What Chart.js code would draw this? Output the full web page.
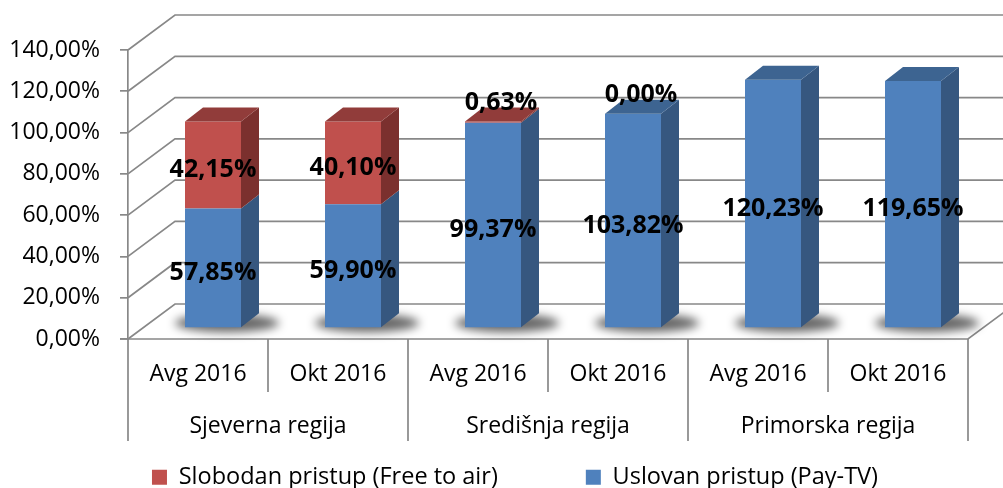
<!DOCTYPE html>
<html><head><meta charset="utf-8">
<script src="https://cdn.jsdelivr.net/npm/chart.js@4.4.1/dist/chart.umd.min.js"></script>
<style>html,body{margin:0;padding:0;background:#fff}#wrap{width:1003px;height:488px}</style>
</head><body><div id="wrap"><canvas id="c" width="1003" height="488"></canvas></div>
<script>
// ---- data ----
const periods = ['Avg 2016', 'Okt 2016', 'Avg 2016', 'Okt 2016', 'Avg 2016', 'Okt 2016'];
const regions = ['Sjeverna regija', 'Središnja regija', 'Primorska regija'];
const payTV = [57.85, 59.90, 99.37, 103.82, 120.23, 119.65];
const freeToAir = [42.15, 40.10, 0.63, 0.00, null, null];
const seriesNames = ['Uslovan pristup (Pay-TV)', 'Slobodan pristup (Free to air)'];
const yMin = 0, yMax = 140, yStep = 20;

// ---- styling ----
const FONT = '"Open Sans", "Noto Sans", sans-serif';
const GRID = '#888888';
const WALL = {dx: 47, dy: -35};
const BAR = {dx: 15, dy: -11};
const DEPTH = {dx: 18, dy: -14};
const faces = [
  {front: '#4F81BD', side: '#36577F', top: '#3D6491'},
  {front: '#C0504D', side: '#7B302E', top: '#913C3A'}
];
const fmt = v => v.toFixed(2).replace('.', ',') + '%';

function poly(ctx, pts) {
  ctx.beginPath();
  ctx.moveTo(pts[0][0], pts[0][1]);
  for (let i = 1; i < pts.length; i++) ctx.lineTo(pts[i][0], pts[i][1]);
  ctx.closePath();
  ctx.fill();
}

const pseudo3d = {
  id: 'pseudo3d',
  afterLayout(chart) {
    // nudge the legend block slightly to the right, as in the original
    if (chart.legend) chart.legend.left += 27;
  },
  beforeDatasetsDraw(chart) {
    const {ctx, chartArea: a, scales: {x, y}} = chart;
    ctx.save();
    ctx.strokeStyle = GRID;
    ctx.lineWidth = 1.7;
    y.ticks.forEach(t => {
      const py = y.getPixelForValue(t.value);
      ctx.beginPath();
      ctx.moveTo(a.left, py);
      ctx.lineTo(a.left + WALL.dx, py + WALL.dy);
      ctx.lineTo(a.right + WALL.dx, py + WALL.dy);
      ctx.stroke();
    });
    ctx.beginPath();
    ctx.moveTo(a.left - 8, a.bottom);
    ctx.lineTo(a.right, a.bottom);
    ctx.lineTo(a.right + WALL.dx, a.bottom + WALL.dy);
    ctx.stroke();
    // soft shadows on the floor
    const meta0 = chart.getDatasetMeta(0);
    ctx.filter = 'blur(5px)';
    ctx.fillStyle = 'rgba(0,0,0,0.6)';
    meta0.data.forEach(el => {
      ctx.beginPath();
      ctx.ellipse(el.x + BAR.dx + 14, el.base + BAR.dy - 4, 52, 9, 0, 0, Math.PI * 2);
      ctx.fill();
    });
    ctx.filter = 'none';
    ctx.restore();
    ctx.save();
    ctx.translate(BAR.dx, BAR.dy);
  },
  afterDatasetsDraw(chart) {
    const {ctx} = chart;
    const n = chart.data.labels.length;
    for (let i = 0; i < n; i++) {
      let topDs = -1;
      chart.data.datasets.forEach((ds, d) => { if (ds.data[i]) topDs = d; });
      chart.data.datasets.forEach((ds, d) => {
        const v = ds.data[i];
        if (!v) return;
        const el = chart.getDatasetMeta(d).data[i];
        const l = el.x - el.width / 2, r = el.x + el.width / 2, t = el.y, b = el.base;
        ctx.fillStyle = faces[d].side;
        poly(ctx, [[r, b], [r, t], [r + DEPTH.dx, t + DEPTH.dy], [r + DEPTH.dx, b + DEPTH.dy]]);
        if (d === topDs) {
          ctx.fillStyle = faces[d].top;
          poly(ctx, [[l, t], [r, t], [r + DEPTH.dx, t + DEPTH.dy], [l + DEPTH.dx, t + DEPTH.dy]]);
        }
      });
    }
    ctx.restore();
    // data labels
    ctx.save();
    ctx.font = 'bold 25px ' + FONT;
    ctx.fillStyle = '#000';
    ctx.textAlign = 'center';
    ctx.textBaseline = 'middle';
    chart.data.datasets.forEach((ds, d) => {
      const meta = chart.getDatasetMeta(d);
      ds.data.forEach((v, i) => {
        if (v === null || v === undefined) return;
        const el = meta.data[i];
        let cx, cy;
        if (v >= 5) {
          cx = el.x + BAR.dx;
          cy = (el.y + el.base) / 2 + BAR.dy + 5;
        } else {
          cx = el.x + BAR.dx + 8;
          cy = el.y + BAR.dy - 19;
        }
        ctx.fillText(fmt(v), cx, cy);
      });
    });
    ctx.restore();
  },
  afterDraw(chart) {
    const {ctx, chartArea: a, scales: {x}} = chart;
    const n = periods.length;
    const per = n / regions.length;
    ctx.save();
    ctx.strokeStyle = GRID;
    ctx.lineWidth = 1.7;
    for (let k = 0; k <= n; k++) {
      const bx = k === 0 ? a.left : k === n ? a.right : (x.getPixelForValue(k - 1) + x.getPixelForValue(k)) / 2;
      const len = k % per === 0 ? 102 : 53;
      ctx.beginPath();
      ctx.moveTo(bx, a.bottom);
      ctx.lineTo(bx, a.bottom + len);
      ctx.stroke();
    }
    ctx.font = '23px ' + FONT;
    ctx.fillStyle = '#000';
    ctx.textAlign = 'center';
    ctx.textBaseline = 'middle';
    periods.forEach((p, i) => ctx.fillText(p, x.getPixelForValue(i), a.bottom + 35));
    regions.forEach((r, g) => {
      const cx = (x.getPixelForValue(g * per) + x.getPixelForValue(g * per + per - 1)) / 2;
      ctx.fillText(r, cx, a.bottom + 87);
    });
    ctx.restore();
  }
};

new Chart(document.getElementById('c'), {
  type: 'bar',
  data: {
    labels: periods,
    datasets: [
      {label: seriesNames[0], data: payTV, backgroundColor: faces[0].front, borderWidth: 0, barPercentage: 0.4, categoryPercentage: 1.0, clip: false},
      {label: seriesNames[1], data: freeToAir, backgroundColor: faces[1].front, borderWidth: 0, barPercentage: 0.4, categoryPercentage: 1.0, clip: false}
    ]
  },
  options: {
    responsive: false,
    animation: false,
    devicePixelRatio: 1,
    layout: {padding: {top: 50, left: 0, right: 0, bottom: -11}},
    plugins: {
      tooltip: {enabled: false},
      legend: {
        position: 'bottom',
        reverse: true,
        labels: {boxWidth: 15, boxHeight: 15, padding: 88, color: '#000', font: {family: FONT, size: 23.5}}
      }
    },
    scales: {
      x: {
        stacked: true,
        display: true,
        grid: {display: false},
        border: {display: false},
        ticks: {display: false},
        afterFit(s) { s.height = 488 + 11 - 339 - (23.5 + 88 + 10); }
      },
      y: {
        stacked: true,
        min: yMin, max: yMax,
        grid: {drawOnChartArea: false, drawTicks: true, tickLength: 8, color: GRID, lineWidth: 1.7},
        border: {display: true, color: GRID, width: 1.7},
        ticks: {stepSize: yStep, padding: 20, color: '#000', font: {family: FONT, size: 23}, callback: v => fmt(v)},
        afterFit(s) { s.width = 128; }
      },
      yR: {
        position: 'right',
        display: true,
        grid: {display: false},
        border: {display: false},
        ticks: {display: false},
        afterFit(s) { s.width = 35; }
      }
    }
  },
  plugins: [pseudo3d]
});
</script>
</body></html>
